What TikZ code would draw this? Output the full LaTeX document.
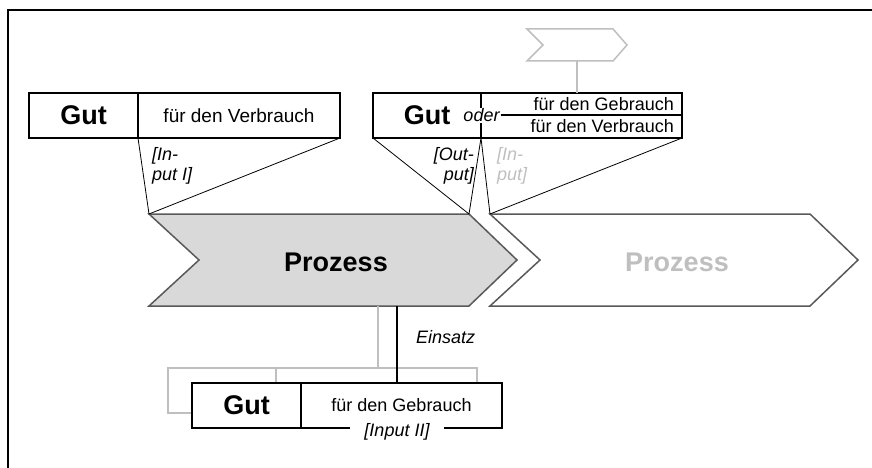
\documentclass[tikz,border=0pt]{standalone}
\usepackage{fontspec}
\setmainfont{Liberation Sans}
\usetikzlibrary{positioning}

\tikzset{
	gutbox/.style = {draw, fill=white, line width=2pt, inner sep=0pt, outer sep=0pt,
		minimum height=45pt, font=\fontsize{27}{29}\selectfont\bfseries},
	fuerbox/.style = {draw, fill=white, line width=2pt, inner sep=0pt, outer sep=0pt,
		minimum height=45pt, font=\fontsize{18}{20}\selectfont},
	ghostbox/.style = {draw=black!25, line width=1.5pt, inner sep=0pt, outer sep=0pt,
		minimum height=45pt},
	fuertext/.style = {inner sep=0pt, font=\fontsize{18}{20}\selectfont},
	remark/.style = {inner sep=0pt, font=\fontsize{18}{20}\selectfont\itshape},
	prozesstext/.style = {inner sep=0pt, font=\fontsize{27}{29}\selectfont\bfseries},
	prozesspfeil/.style = {draw=black!65, line width=1.5pt},
	ghost/.style = {draw=black!25, line width=1.5pt},
	verbinder/.style = {line width=0.8pt}
}

\begin{document}
\begin{tikzpicture}[x=1pt, y=-1pt]

	\useasboundingbox (0,0) rectangle (872,468);
	\draw [line width=2pt] (8,468) -- (8,10) -- (872,10);

	% Prozesse
	\filldraw [prozesspfeil, fill=black!15] (149,214) coordinate (p1nw) -- (469,214) coordinate (p1ne)
		-- (517,260) -- (469,306) -- (149,306) -- (199,260) -- cycle;
	\node [prozesstext] (prozess1) at (336,262.5) {Prozess};
	\filldraw [prozesspfeil, fill=white] (490,214) coordinate (p2nw) -- (810,214)
		-- (858,260) -- (810,306) -- (490,306) -- (540,260) -- cycle;
	\node [prozesstext, text=black!25] (prozess2) at (677,262.5) {Prozess};

	% Input I
	\node [gutbox, minimum width=109pt] (gut1) at (83.5,115.5) {Gut};
	\node [fuerbox, minimum width=202pt, right=0pt of gut1, font=\fontsize{19}{21}\selectfont] (fuer1) {für den Verbrauch};
	\draw [verbinder] (fuer1.south west) -- (p1nw) -- (fuer1.south east);
	\node [remark, align=left, anchor=north west] (input1) at (152,147) {[In-\\put I]};

	% Output
	\draw [ghost] (527,29) -- (613,29) -- (627,45) -- (613,61) -- (527,61) -- (543,45) -- cycle;
	\coordinate (klein) at (577,61);
	\node [gutbox, minimum width=108pt] (gut2) at (427,115.5) {Gut};
	\node [fuerbox, minimum width=201pt, right=0pt of gut2] (fuer2) {};
	\draw [ghost] (klein) -- (klein |- fuer2.north);
	\node [fuertext, anchor=east] (gebrauch2) at (674,104.5) {für den Gebrauch};
	\node [fuertext, anchor=east] (verbrauch2) at (674,126.5) {für den Verbrauch};
	\node [remark, fill=white, inner sep=1pt] (oder) at (481.5,115.5) {oder};
	\draw [line width=2pt] (oder.east) -- (fuer2.east);
	\draw [verbinder] (gut2.south west) -- (p1ne) -- (gut2.south east) -- (p2nw) -- (fuer2.south east);
	\node [remark, align=right, anchor=north east] (output) at (474,147) {[Out-\\put]};
	\node [remark, align=left, anchor=north west, text=black!25] (input3) at (497,147) {[In-\\put]};

	% Input II
	\node [ghostbox, minimum width=108pt] (gutS) at (222,390.5) {};
	\node [ghostbox, minimum width=201pt, right=0pt of gutS] (fuerS) {};
	\coordinate (s1) at (378,306);
	\draw [ghost] (s1) -- (s1 |- fuerS.north);
	\node [gutbox, minimum width=109pt] (gut3) at (246.5,405.5) {Gut};
	\node [fuerbox, minimum width=201pt, right=0pt of gut3] (fuer3) {für den Gebrauch};
	\coordinate (s2) at (397,306);
	\draw [line width=2pt] (s2) -- (s2 |- fuer3.north);
	\node [remark, anchor=west] (einsatz) at (416,337) {Einsatz};
	\node [remark, fill=white, inner xsep=14pt, inner ysep=1pt] (input2)
		at ([yshift=-4pt]s2 |- fuer3.south) {[Input II]};

\end{tikzpicture}
\end{document}
